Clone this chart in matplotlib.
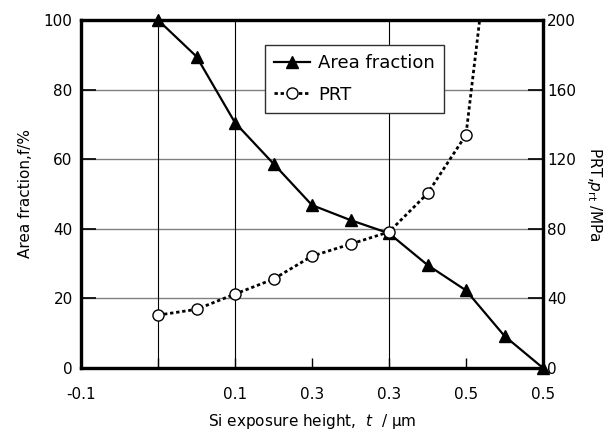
import matplotlib
matplotlib.use('Agg')
import matplotlib.pyplot as plt

# data
height = [0.0, 0.05, 0.1, 0.15, 0.2, 0.25, 0.3, 0.35, 0.4, 0.45, 0.5]
area_fraction = [100, 89.5, 70.5, 58.7, 46.8, 42.5, 38.7, 29.6, 22.3, 9.2, 0]
prt_height = [0.0, 0.05, 0.1, 0.15, 0.2, 0.25, 0.3, 0.35, 0.4, 0.45]
prt = [30.4, 33.7, 42.5, 51.1, 64.3, 71.2, 78.2, 100.3, 134, 320]

x_ticks = [-0.1, 0.0, 0.1, 0.2, 0.3, 0.4, 0.5]
x_tick_labels = ["-0.1", "", "0.1", "0.3", "0.3", "0.5", "0.5"]
x_grid = [0.0, 0.1, 0.3]
left_ticks = [0, 20, 40, 60, 80, 100]
right_ticks = [0, 40, 80, 120, 160, 200]

plt.rcParams['font.family'] = ['DejaVu Sans', 'Noto Sans CJK JP']
plt.rcParams['font.size'] = 11

fig = plt.figure(figsize=(6.12, 4.34), dpi=100)
fig.subplots_adjust(left=81/612, right=543/612, bottom=1-368/434, top=1-20/434)
ax = fig.add_subplot(111)
ax2 = ax.twinx()

ax.set_xlim(-0.1, 0.5)
ax.set_ylim(0, 100)
ax2.set_ylim(0, 200)

# grid
ax.set_yticks(left_ticks)
ax.yaxis.grid(True, color='#808080', linewidth=1.0)
for gx in x_grid:
    ax.axvline(gx, color='black', linewidth=0.8, zorder=1)
ax.set_axisbelow(True)

l1, = ax.plot(height, area_fraction, color='black', linewidth=1.6,
              marker='^', markersize=9, markerfacecolor='black',
              label='Area fraction', zorder=3, clip_on=False)
l2, = ax2.plot(prt_height, prt, color='black', linewidth=2.0, linestyle=(0, (1.2, 1.0)),
               marker='o', markersize=8, markerfacecolor='white',
               markeredgecolor='black', markeredgewidth=1.0,
               label='PRT', zorder=3)

ax.set_xticks(x_ticks)
ax.set_xticklabels(x_tick_labels)
ax2.set_yticks(right_ticks)

ax.tick_params(axis='x', direction='in', length=7, pad=14, width=1.0)
ax.tick_params(axis='y', direction='in', length=11, pad=6, width=1.2)
ax2.tick_params(axis='y', direction='in', length=11, pad=3, width=1.2)

for a in (ax, ax2):
    for s in a.spines.values():
        s.set_linewidth(2.3)

ax.set_xlabel(r'Si exposure height,  $\it{t}$  / μm', labelpad=7)
ax.set_ylabel('Area fraction,f/%', labelpad=8)
ax2.set_ylabel(r'PRT,$p_{\rm rt}$ /MPa', rotation=270, labelpad=20)

leg = ax2.legend(handles=[l1, l2], loc='upper left', bbox_to_anchor=(0.398, 0.928),
                 borderaxespad=0, fancybox=False, framealpha=1, edgecolor='#303030',
                 borderpad=0.5, labelspacing=0.75, handlelength=2.0,
                 handletextpad=0.45, fontsize=13)
leg.get_frame().set_linewidth(1.0)

fig.savefig('out.png', dpi=100)
plt.close()
